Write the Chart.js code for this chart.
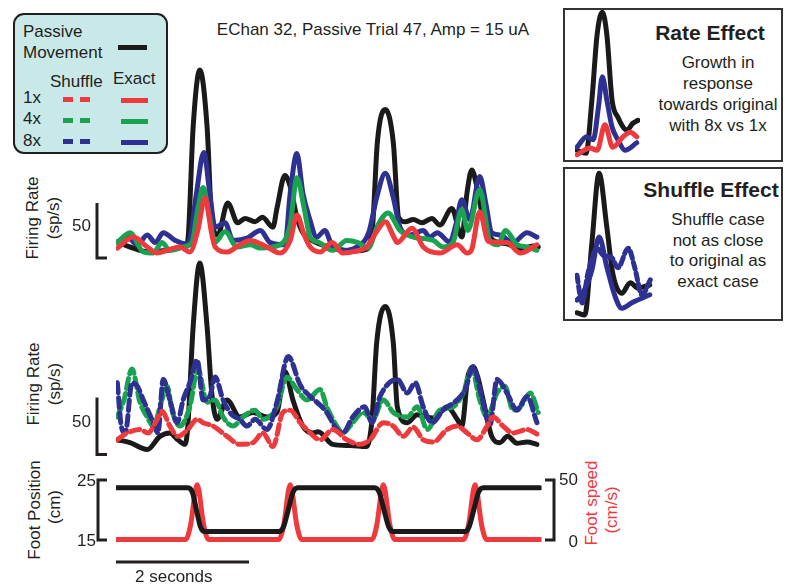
<!DOCTYPE html>
<html>
<head>
<meta charset="utf-8">
<script src="https://cdn.jsdelivr.net/npm/chart.js@4.4.0/dist/chart.umd.min.js"></script>
<style>
  body { margin: 0; width: 785px; height: 585px; position: relative; overflow: hidden; background: #fff;
         font-family: "Liberation Sans", Arial, sans-serif; color: #231f20; }
  canvas { position: absolute; }
  .t { position: absolute; font-size: 17px; line-height: 20px; white-space: nowrap; }
  .c { text-align: center; }
  .rot { position: absolute; font-size: 17px; line-height: 20px; white-space: nowrap; text-align: center;
         width: 140px; height: 20px; transform: rotate(-90deg); }
  .legend { position: absolute; left: 13px; top: 13px; width: 155px; height: 141px; box-sizing: border-box;
            border: 2px solid #231f20; border-radius: 11px; background: #c9e8e8; }
  .sw { position: absolute; height: 5px; }
  .box { position: absolute; box-sizing: border-box; border: 2px solid #333; background: #fff; }
  .head { position: absolute; font-weight: bold; font-size: 21px; line-height: 24px; white-space: nowrap; text-align: center; }
  .body { position: absolute; font-size: 17px; line-height: 21px; text-align: center; white-space: nowrap; }
</style>
</head>
<body>

<div class="t c" style="left:173px;top:20px;width:400px">EChan 32, Passive Trial 47, Amp = 15 uA</div>

<div class="legend"></div>
<div class="t" style="left:23px;top:22px">Passive</div>
<div class="t" style="left:23px;top:43px">Movement</div>
<div class="sw" style="left:118px;top:45px;width:29px;background:#1a1a1a"></div>
<div class="t" style="left:50px;top:72px">Shuffle</div>
<div class="t" style="left:113px;top:69px">Exact</div>
<div class="t" style="left:23px;top:88px">1x</div>
<div class="t" style="left:23px;top:109px">4x</div>
<div class="t" style="left:23px;top:131px">8x</div>
<div class="sw" style="left:63px;top:97px;width:10px;background:#ee3a3d"></div>
<div class="sw" style="left:80px;top:97px;width:10px;background:#ee3a3d"></div>
<div class="sw" style="left:121px;top:98px;width:27px;background:#ee3a3d"></div>
<div class="sw" style="left:63px;top:118px;width:10px;background:#1aa251"></div>
<div class="sw" style="left:80px;top:118px;width:10px;background:#1aa251"></div>
<div class="sw" style="left:121px;top:119px;width:27px;background:#1aa251"></div>
<div class="sw" style="left:63px;top:139px;width:10px;background:#2e3192"></div>
<div class="sw" style="left:80px;top:139px;width:10px;background:#2e3192"></div>
<div class="sw" style="left:121px;top:140px;width:27px;background:#2e3192"></div>

<div class="rot" style="left:-37px;top:208px">Firing Rate</div>
<div class="rot" style="left:-16px;top:208px">(sp/s)</div>
<div class="rot" style="left:-36px;top:374px">Firing Rate</div>
<div class="rot" style="left:-15px;top:374px">(sp/s)</div>
<div class="rot" style="left:-35px;top:500px">Foot Position</div>
<div class="rot" style="left:-15px;top:497px">(cm)</div>
<div class="rot" style="left:522px;top:493px;color:#ee3a3d">Foot speed</div>
<div class="rot" style="left:542px;top:500px;color:#ee3a3d">(cm/s)</div>

<div class="box" style="left:563px;top:8px;width:220px;height:154px"></div>
<div class="head" style="left:640px;top:21px;width:140px">Rate Effect</div>
<div class="body" style="left:648px;top:52px;width:140px">Growth in<br>response<br>towards original<br>with 8x vs 1x</div>

<div class="box" style="left:563px;top:167px;width:220px;height:154px"></div>
<div class="head" style="left:641px;top:178px;width:140px">Shuffle Effect</div>
<div class="body" style="left:648px;top:210px;width:140px;line-height:20.5px">Shuffle case<br>not as close<br>to original as<br>exact case</div>

<canvas id="topPanel" width="560" height="220" style="left:0;top:49px"></canvas>
<canvas id="midPanel" width="560" height="228" style="left:0;top:238px"></canvas>
<canvas id="footPanel" width="630" height="123" style="left:0;top:462px"></canvas>
<canvas id="rateInset" width="77" height="162" style="left:569px;top:4px"></canvas>
<canvas id="shufInset" width="92" height="162" style="left:569px;top:162px"></canvas>

<script>
// firing rates, [time (s), rate (sp/s)]
const exactBlack = [[0.02,14.5],[0.21,10],[0.51,5.5],[0.81,7.3],[1.04,11],[1.08,16],[1.16,119],[1.26,171],[1.37,119],[1.44,35],
  [1.53,21],[1.68,50],[1.83,32],[1.94,36],[2.09,33],[2.20,37],[2.36,28],[2.42,45],[2.54,75],[2.62,65],[2.72,37],[2.81,23],
  [2.92,17],[3.26,9],[3.59,6.4],[3.77,8],[3.86,30],[3.93,105],[4.05,135],[4.17,105],[4.25,37],[4.35,33],[4.47,35],[4.60,32],
  [4.75,36],[4.87,30],[5.05,45],[5.20,19],[5.28,60],[5.35,80],[5.43,64],[5.53,33],[5.67,16],[5.88,13],[6.08,8],[6.27,11],[6.35,10]];
const exactBlue = [[0.02,14.5],[0.17,19],[0.32,12],[0.47,21],[0.59,14],[0.71,23],[0.89,16],[1.04,13],[1.10,15],[1.21,59],
  [1.32,96],[1.41,59],[1.49,28],[1.64,32],[1.76,16],[1.97,18],[2.17,25],[2.32,14],[2.54,12],[2.62,59],[2.72,95],[2.81,59],
  [2.90,38],[3.02,19],[3.14,25],[3.26,10],[3.44,7],[3.62,10],[3.80,23],[3.92,55],[4.05,77],[4.17,55],[4.27,28],[4.42,21],
  [4.62,25],[4.72,19],[4.83,23],[5.02,14.5],[5.11,30],[5.20,53],[5.32,35],[5.47,74],[5.56,50],[5.65,23],[5.77,21],[5.97,14],
  [6.18,23],[6.33,19]];
const exactGreen = [[0.02,14],[0.21,23],[0.41,5.5],[0.56,4.5],[0.69,14],[0.81,7],[1.01,10],[1.14,14],[1.23,44],[1.31,64],
  [1.40,39],[1.49,14.5],[1.64,24],[1.82,10],[2.02,12],[2.17,9],[2.47,12],[2.62,30],[2.72,73],[2.83,45],[2.92,19],[3.04,14.5],
  [3.26,7],[3.47,16],[3.64,14],[3.79,9],[3.94,30],[4.09,41],[4.27,25],[4.47,19],[4.77,16],[4.92,10],[5.07,14.5],[5.20,44],
  [5.29,25],[5.47,62],[5.62,16],[5.74,12],[5.86,25],[6.03,12],[6.18,10],[6.33,7]];
const exactRed = [[0.02,9],[0.26,19],[0.47,10],[0.62,4.5],[0.77,7],[0.96,10],[1.11,5.5],[1.23,25],[1.34,55],[1.43,25],
  [1.49,10],[1.67,5.5],[1.86,12],[2.02,16],[2.27,10],[2.47,4.5],[2.62,16],[2.72,39],[2.83,21],[2.92,10],[3.07,5.5],[3.25,14],
  [3.41,4.5],[3.62,6.4],[3.77,10],[3.92,24],[4.05,33],[4.17,20],[4.23,14],[4.45,27],[4.62,10],[4.87,4.5],[5.13,12],[5.28,4.5],
  [5.35,8],[5.47,42],[5.60,15],[5.88,14],[6.08,4.5],[6.33,12]];

const shuffleBlack = [[0.02,13],[0.21,10.5],[0.47,4.4],[0.66,16],[0.81,19],[0.93,13],[1.04,9],[1.08,25],[1.16,112],[1.26,168],
  [1.37,112],[1.44,54],[1.52,31],[1.67,48],[1.86,33],[2.06,37],[2.27,33],[2.42,37],[2.54,73],[2.66,48],[2.81,25],[2.96,19],
  [3.04,20],[3.26,9],[3.52,8],[3.77,7],[3.85,31],[3.92,98],[4.05,130],[4.17,98],[4.23,42],[4.38,28],[4.53,35],[4.77,32],
  [4.98,42],[5.13,31],[5.20,25],[5.29,68],[5.37,77],[5.44,68],[5.52,48],[5.65,16],[5.77,10.5],[5.89,16],[6.03,10],[6.18,11],[6.33,9]];
const shuffleBlue = [[0.02,63],[0.08,25],[0.14,19],[0.24,63],[0.32,60],[0.41,48],[0.56,28],[0.63,19],[0.71,66],[0.81,48],
  [0.92,28],[1.01,48],[1.11,63],[1.22,83],[1.31,48],[1.41,51],[1.49,68],[1.61,48],[1.74,35],[1.86,31],[1.97,25],[2.09,31],
  [2.27,22],[2.42,46],[2.59,86],[2.77,61],[2.92,51],[3.02,46],[3.17,37],[3.32,22],[3.41,19],[3.56,33],[3.74,42],[3.85,28],
  [3.97,51],[4.23,66],[4.38,54],[4.50,63],[4.62,42],[4.75,28],[4.92,39],[5.13,48],[5.25,57],[5.37,77],[5.49,53],[5.58,31],
  [5.62,25],[5.73,66],[5.88,54],[6.03,39],[6.18,51],[6.33,28]];
const shuffleGreen = [[0.02,33],[0.12,48],[0.24,75],[0.36,46],[0.47,33],[0.56,25],[0.69,48],[0.77,60],[0.84,39],[0.96,25],
  [1.11,42],[1.23,75],[1.37,46],[1.49,48],[1.61,33],[1.76,25],[1.91,33],[2.09,39],[2.21,31],[2.42,42],[2.57,68],[2.72,57],
  [2.87,48],[3.07,57],[3.17,42],[3.32,25],[3.41,19],[3.56,28],[3.71,37],[3.86,31],[4.02,48],[4.17,37],[4.38,33],[4.53,42],
  [4.68,22],[4.87,39],[5.07,42],[5.22,54],[5.35,75],[5.47,48],[5.58,33],[5.73,54],[5.85,60],[5.97,39],[6.08,42],[6.23,54],[6.35,37]];
const shuffleRed = [[0.02,13],[0.17,19],[0.36,22],[0.48,19],[0.62,31],[0.69,38],[0.81,25],[0.93,16],[1.08,22],[1.22,31],
  [1.31,28],[1.46,25],[1.67,16],[1.86,9],[2.06,10.5],[2.21,19],[2.36,7],[2.51,37],[2.62,39],[2.77,28],[2.87,22],[3.07,13],
  [3.26,22],[3.47,13],[3.67,9],[3.82,13],[4.02,28],[4.17,25],[4.32,16],[4.47,24],[4.62,13],[4.77,11],[4.98,22],[5.13,25],
  [5.28,19],[5.43,13],[5.58,25],[5.67,33],[5.82,25],[5.97,19],[6.18,22],[6.33,18]];

// foot kinematics, [time (s), cm] and [time (s), cm/s]
const footPosition = [[0,23.7],[1.08,23.7],[1.15,22.9],[1.21,20],[1.27,17.2],[1.34,16.4],[2.45,16.4],[2.52,17.2],[2.59,20],
  [2.66,22.9],[2.73,23.7],[3.89,23.7],[3.96,22.9],[4.03,20],[4.10,17.2],[4.17,16.4],[5.25,16.4],[5.31,17.2],[5.38,20],
  [5.45,22.9],[5.52,23.7],[6.38,23.7]];
const footSpeed = [[0,0.5],[1.05,0.5],[1.12,12],[1.22,46],[1.32,12],[1.39,0.5],[2.45,0.5],[2.52,12],[2.62,46],[2.72,12],
  [2.79,0.5],[3.85,0.5],[3.92,12],[4.02,46],[4.12,12],[4.19,0.5],[5.23,0.5],[5.30,12],[5.40,46],[5.50,12],[5.57,0.5],[6.38,0.5]];

// close-ups of the first response
const rateBlack = [[0.03,13],[0.17,9],[0.26,80],[0.34,167],[0.42,197],[0.49,167],[0.57,80],[0.66,57],[0.80,40],[0.89,49],[0.97,53]];
const rateBlue = [[0.03,17],[0.18,31],[0.28,27],[0.36,70],[0.42,111],[0.49,80],[0.57,44],[0.66,27],[0.77,13],[0.95,23]];
const rateRed = [[0.03,7],[0.23,16],[0.34,13],[0.46,47],[0.58,17],[0.74,31],[0.85,37],[0.95,31]];
const shufInsetBlack = [[0.03,7],[0.15,4],[0.26,100],[0.37,193],[0.49,121],[0.58,60],[0.72,33],[0.85,47],[0.97,40],[1.15,44]];
const shufInsetExact = [[0.03,24],[0.12,33],[0.26,64],[0.37,108],[0.49,68],[0.62,28],[0.72,13],[0.89,21],[1.15,31]];
const shufInsetShuffle = [[0.03,57],[0.11,20],[0.20,60],[0.34,93],[0.43,84],[0.57,80],[0.66,67],[0.82,93],[0.92,67],[1.03,31],[1.17,53]];

const BLACK = '#1a1a1a', RED = '#ee3a3d', GREEN = '#1aa251', BLUE = '#2e3192', INK = '#231f20';
const FONT = '"Liberation Sans", Arial, sans-serif';

function trace(points, color, dash, yAxisID) {
  return {
    data: points.map(([x, y]) => ({ x, y })),
    borderColor: color,
    borderWidth: 5,
    borderDash: dash || [],
    borderCapStyle: 'round',
    borderJoinStyle: 'round',
    pointRadius: 0,
    fill: false,
    cubicInterpolationMode: 'monotone',
    yAxisID: yAxisID || 'y'
  };
}

function baseOptions(xMin, xMax, scales, padding) {
  return {
    responsive: false,
    animation: false,
    devicePixelRatio: 1,
    events: [],
    layout: { padding },
    plugins: { legend: { display: false }, tooltip: { enabled: false } },
    scales: Object.assign({ x: { type: 'linear', display: false, min: xMin, max: xMax } }, scales)
  };
}

// 50 sp/s scale bar at the left of a rate panel
const rateBar = {
  id: 'rateBar',
  afterDraw(chart) {
    const { ctx } = chart;
    const y = chart.scales.y;
    const top = y.getPixelForValue(50), base = y.getPixelForValue(0);
    ctx.save();
    ctx.strokeStyle = INK;
    ctx.lineWidth = 3;
    ctx.beginPath();
    ctx.moveTo(97, top);
    ctx.lineTo(97, base);
    ctx.lineTo(107, base);
    ctx.stroke();
    ctx.fillStyle = INK;
    ctx.font = '17px ' + FONT;
    ctx.textAlign = 'right';
    ctx.textBaseline = 'middle';
    ctx.fillText('50', 91, (top + base) / 2 - 4);
    ctx.restore();
  }
};

// brackets for position / speed and the 2 s time bar
const footBars = {
  id: 'footBars',
  afterDraw(chart) {
    const { ctx } = chart;
    const { x, pos, spd } = chart.scales;
    const p25 = pos.getPixelForValue(25), p15 = pos.getPixelForValue(15);
    const s50 = spd.getPixelForValue(50), s0 = spd.getPixelForValue(0);
    ctx.save();
    ctx.strokeStyle = INK;
    ctx.lineWidth = 3;
    ctx.beginPath();
    ctx.moveTo(107, p25); ctx.lineTo(98, p25); ctx.lineTo(98, p15); ctx.lineTo(107, p15);
    ctx.moveTo(545, s50); ctx.lineTo(554, s50); ctx.lineTo(554, s0); ctx.lineTo(545, s0);
    const barY = chart.chartArea.bottom + 12;
    ctx.moveTo(x.getPixelForValue(0), barY);
    ctx.lineTo(x.getPixelForValue(2), barY);
    ctx.stroke();
    ctx.fillStyle = INK;
    ctx.font = '17px ' + FONT;
    ctx.textBaseline = 'middle';
    ctx.textAlign = 'right';
    ctx.fillText('25', 96, p25 + 1);
    ctx.fillText('15', 96, p15 + 1);
    ctx.fillText('50', 578, s50);
    ctx.fillText('0', 578, s0 + 2);
    ctx.textAlign = 'left';
    ctx.fillText('2 seconds', 135, barY + 15);
    ctx.restore();
  }
};

new Chart(document.getElementById('topPanel'), {
  type: 'line',
  data: { datasets: [
    trace(exactRed, RED), trace(exactGreen, GREEN), trace(exactBlue, BLUE), trace(exactBlack, BLACK)
  ] },
  options: baseOptions(0, 6.4, { y: { display: false, min: -10, max: 190 } }, { left: 116, right: 18.4, top: 0, bottom: 0 }),
  plugins: [rateBar]
});

new Chart(document.getElementById('midPanel'), {
  type: 'line',
  data: { datasets: [
    trace(shuffleRed, RED, [10, 5]), trace(shuffleBlue, BLUE, [10, 5]), trace(shuffleGreen, GREEN, [10, 5]), trace(shuffleBlack, BLACK)
  ] },
  options: baseOptions(0, 6.4, { y: { display: false, min: -10, max: 190 } }, { left: 116, right: 18.4, top: 0, bottom: 0 }),
  plugins: [rateBar]
});

new Chart(document.getElementById('footPanel'), {
  type: 'line',
  data: { datasets: [
    trace(footPosition, BLACK, null, 'pos'), trace(footSpeed, RED, null, 'spd')
  ] },
  options: baseOptions(0, 6.4, {
    pos: { display: false, min: 15 - 10 / 6, max: 25 + 10 / 6 },
    spd: { display: false, min: -10 / 1.2, max: 50 + 10 / 1.2 }
  }, { left: 116, right: 88.4, top: 8, bottom: 35 }),
  plugins: [footBars]
});

new Chart(document.getElementById('rateInset'), {
  type: 'line',
  data: { datasets: [trace(rateRed, RED), trace(rateBlue, BLUE), trace(rateBlack, BLACK)] },
  options: baseOptions(0, 1, { y: { display: false, min: 0, max: 200 } }, 6)
});

new Chart(document.getElementById('shufInset'), {
  type: 'line',
  data: { datasets: [trace(shufInsetShuffle, BLUE, [7, 4]), trace(shufInsetExact, BLUE), trace(shufInsetBlack, BLACK)] },
  options: baseOptions(0, 80 / 65, { y: { display: false, min: 0, max: 200 } }, 6)
});
</script>
</body>
</html>
